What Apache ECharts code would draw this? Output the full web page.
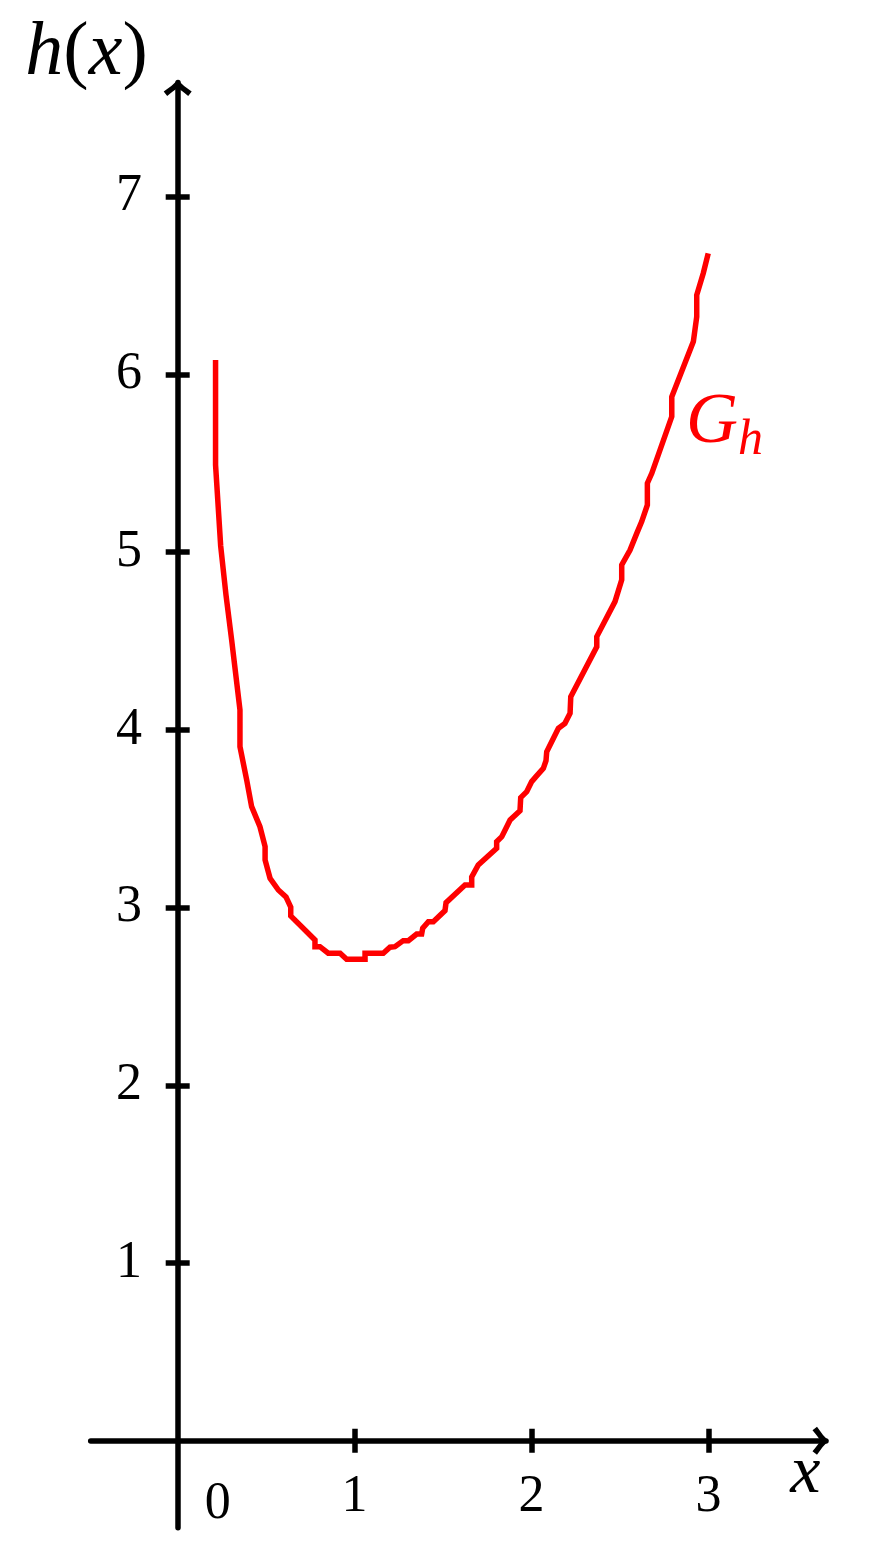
<!DOCTYPE html>
<html>
<head>
<meta charset="utf-8">
<style>
  html, body { margin: 0; padding: 0; background: #ffffff; }
  #chart { width: 874px; height: 1542px; }
</style>
<script src="https://cdn.jsdelivr.net/npm/echarts@6/dist/echarts.min.js"></script>
</head>
<body>
<div id="chart"></div>
<script>
// ---- data ----
const curveX = [0.214,0.214,0.243,0.273,0.305,0.352,0.352,0.390,0.418,0.465,0.494,0.494,0.522,0.569,0.612,0.639,0.639,0.776,0.776,0.804,0.851,0.918,0.955,1.059,1.059,1.162,1.200,1.228,1.275,1.304,1.351,1.379,1.385,1.417,1.445,1.511,1.517,1.624,1.662,1.662,1.699,1.803,1.803,1.832,1.879,1.935,1.939,1.973,2.001,2.029,2.067,2.082,2.086,2.152,2.189,2.218,2.222,2.369,2.369,2.472,2.510,2.510,2.557,2.595,2.623,2.655,2.655,2.680,2.793,2.793,2.915,2.934,2.934,2.971,2.999];
const curveY = [6.082,5.491,5.035,4.759,4.506,4.112,3.906,3.718,3.568,3.455,3.343,3.268,3.165,3.099,3.060,3.003,2.953,2.818,2.780,2.780,2.743,2.743,2.709,2.709,2.743,2.743,2.777,2.780,2.814,2.814,2.851,2.851,2.884,2.921,2.921,2.983,3.028,3.127,3.127,3.172,3.240,3.334,3.371,3.399,3.493,3.545,3.619,3.652,3.709,3.741,3.784,3.827,3.877,4.009,4.037,4.093,4.187,4.468,4.525,4.722,4.844,4.928,5.012,5.106,5.172,5.266,5.388,5.444,5.763,5.875,6.185,6.325,6.447,6.570,6.682];
const xTicks = [1, 2, 3];
const yTicks = [1, 2, 3, 4, 5, 6, 7];
const originLabel = '0';
const curveName = 'G';
const curveSub = 'h';
const curveLabelAt = [2.873, 5.724];
const xName = 'x';
const xNameAt = [3.548, -0.190];
const yNameParts = ['h', '(', 'x', ')'];

const X_MIN = -0.4918, X_MAX = 3.6648;
const Y_MIN = -0.4896, Y_MAX = 7.6432;

const serif = "'Liberation Serif', 'DejaVu Serif', serif";
const chevron = 'path://M14 0 Q19.5 6 28 11.5 L24.5 16 Q18 10.5 14 8 Q10 10.5 3.5 16 L0 11.5 Q8.5 6 14 0 Z';
const AXW = 5.5;

const chart = echarts.init(document.getElementById('chart'), null, { renderer: 'canvas' });

const baseAxis = (min, max) => ({
  type: 'value', min: min, max: max, splitLine: { show: false }
});

const option = {
  backgroundColor: '#ffffff',
  animation: false,
  grid: { left: 90.7, right: 48, top: 82.5, bottom: 14.3, containLabel: false, outerBoundsMode: 'none' },
  xAxis: [
    Object.assign(baseAxis(X_MIN, X_MAX), {
      position: 'bottom',
      axisLine: { show: true, onZero: true, onZeroAxisIndex: 0,
        symbol: ['none', chevron], symbolSize: [28, 16], symbolOffset: [0, -5.5],
        lineStyle: { color: '#000', width: AXW } },
      axisTick: { show: true, inside: false, length: 12, customValues: xTicks,
        lineStyle: { color: '#000', width: AXW } },
      axisLabel: { show: true, customValues: xTicks, margin: -56, hideOverlap: false,
        color: '#000', fontFamily: serif, fontSize: 52 }
    }),
    Object.assign(baseAxis(X_MIN, X_MAX), {
      position: 'bottom',
      axisLine: { show: false, onZero: true, onZeroAxisIndex: 0 },
      axisTick: { show: true, inside: true, length: 12, customValues: xTicks,
        lineStyle: { color: '#000', width: AXW } },
      axisLabel: { show: false }
    })
  ],
  yAxis: [
    Object.assign(baseAxis(Y_MIN, Y_MAX), {
      position: 'left',
      axisLine: { show: true, onZero: true, onZeroAxisIndex: 0,
        symbol: ['none', chevron], symbolSize: [28, 16], symbolOffset: [0, -5.5],
        lineStyle: { color: '#000', width: AXW } },
      axisTick: { show: true, inside: false, length: 12, customValues: yTicks,
        lineStyle: { color: '#000', width: AXW } },
      axisLabel: { show: true, customValues: yTicks, margin: -51.3, hideOverlap: false,
        color: '#000', fontFamily: serif, fontSize: 52 },
      name: yNameParts.map((p, i) => (i % 2 === 0 ? '{i|' : '{r|') + p + '}').join(''),
      nameLocation: 'end', nameGap: 28,
      nameTextStyle: { color: '#000', fontFamily: serif, fontSize: 76,
        align: 'right', verticalAlign: 'middle', padding: [0, 30, 0, 0],
        rich: {
          i: { fontFamily: serif, fontStyle: 'italic', fontSize: 76, color: '#000' },
          r: { fontFamily: serif, fontSize: 76, color: '#000' }
        } }
    }),
    Object.assign(baseAxis(Y_MIN, Y_MAX), {
      position: 'left',
      axisLine: { show: false, onZero: true, onZeroAxisIndex: 0 },
      axisTick: { show: true, inside: true, length: 12, customValues: yTicks,
        lineStyle: { color: '#000', width: AXW } },
      axisLabel: { show: false }
    })
  ],
  series: [
    {
      type: 'line',
      xAxisIndex: 0, yAxisIndex: 0,
      data: curveX.map((x, i) => [x, curveY[i]]),
      showSymbol: false,
      smooth: false,
      lineStyle: { color: '#ff0000', width: 5.5, join: 'miter' },
      z: 3
    },
    {
      type: 'scatter',
      xAxisIndex: 0, yAxisIndex: 0,
      symbolSize: 0,
      itemStyle: { opacity: 1 },
      data: [[0, 0]],
      label: { show: true, position: 'inside', offset: [40, 64], formatter: originLabel,
        color: '#000', fontFamily: serif, fontSize: 52 },
      silent: true
    },
    {
      type: 'scatter',
      xAxisIndex: 0, yAxisIndex: 0,
      symbolSize: 0,
      itemStyle: { opacity: 1 },
      data: [xNameAt],
      label: { show: true, position: 'inside', formatter: xName,
        color: '#000', fontFamily: serif, fontStyle: 'italic', fontSize: 68 },
      silent: true
    },
    {
      type: 'scatter',
      xAxisIndex: 0, yAxisIndex: 0,
      symbolSize: 0,
      itemStyle: { opacity: 1 },
      data: [curveLabelAt],
      label: { show: true, position: 'right', distance: 0,
        formatter: '{g|' + curveName + '}{s|' + curveSub + '}',
        rich: {
          g: { fontFamily: serif, fontStyle: 'italic', fontSize: 72, lineHeight: 84, color: '#ff0000' },
          s: { fontFamily: serif, fontStyle: 'italic', fontSize: 50, lineHeight: 50, verticalAlign: 'bottom', color: '#ff0000' }
        } },
      silent: true
    }
  ]
};

chart.setOption(option);
</script>
</body>
</html>
